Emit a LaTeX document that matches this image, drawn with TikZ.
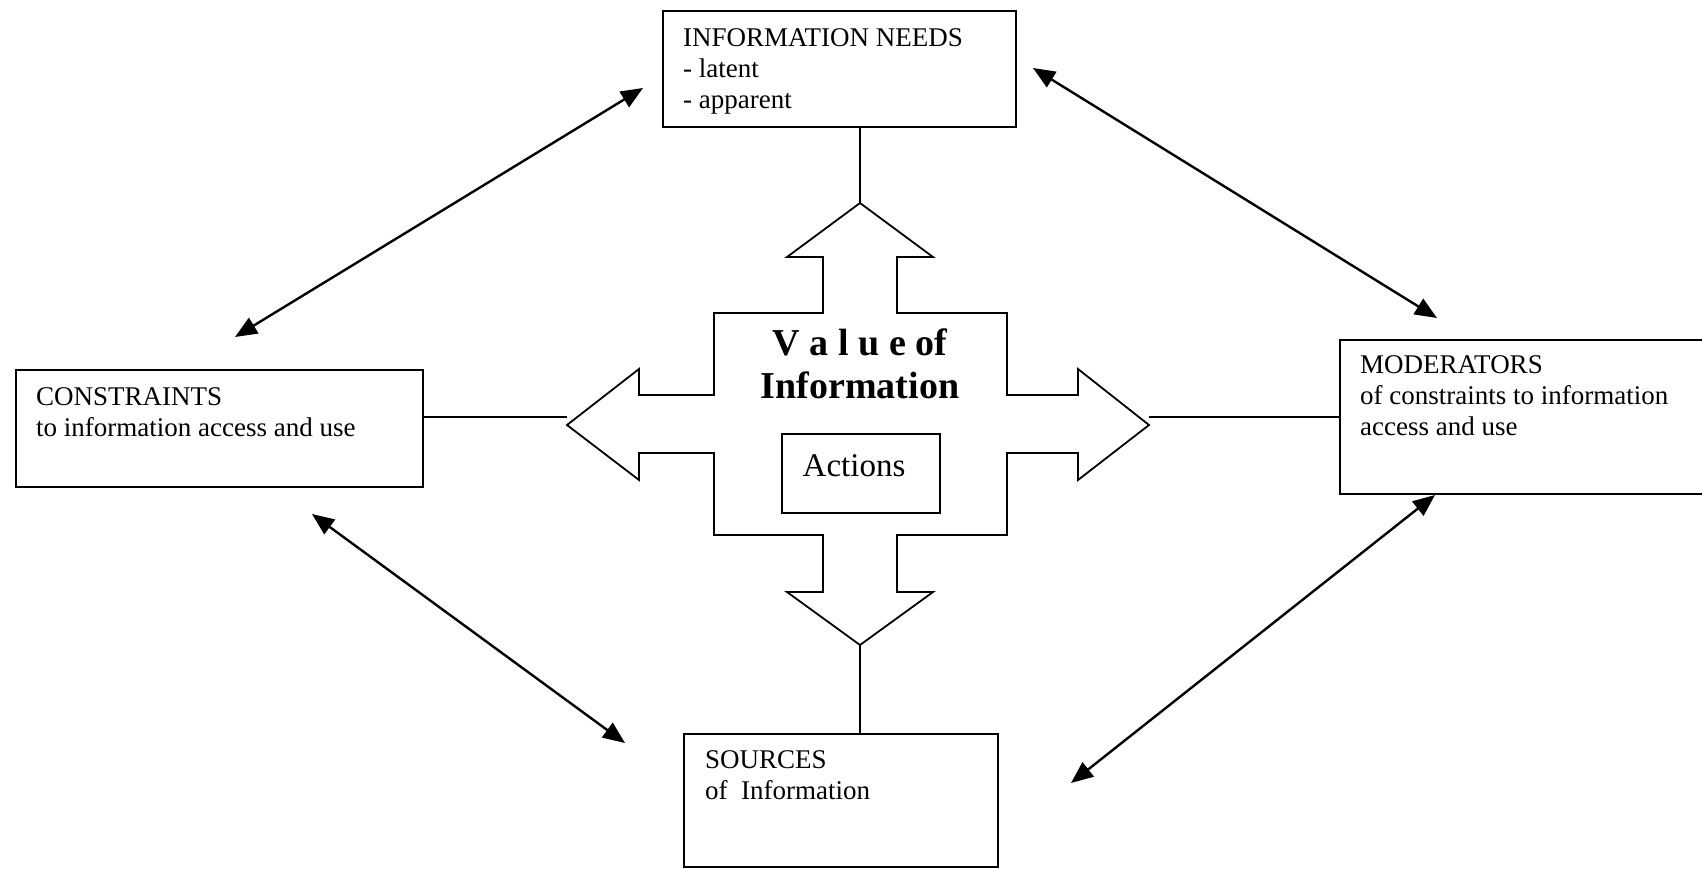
\documentclass[tikz,border=0pt]{standalone}
\usepackage{fontspec}
\setmainfont{Liberation Serif}
\usetikzlibrary{arrows.meta}
\begin{document}
\begin{tikzpicture}[x=1pt,y=-1pt,
  box/.style={draw, line width=1.8pt, inner sep=0pt, anchor=north west},
  lbl/.style={anchor=north west, inner sep=0pt, align=left,
              font=\fontsize{27}{31}\selectfont},
  link/.style={line width=2pt},
  twoway/.style={line width=2.4pt,
    {Triangle[length=22pt,width=18pt]}-{Triangle[length=22pt,width=18pt]}}]
\path[use as bounding box] (0,0) rectangle (1702,868);
\clip (0,0) rectangle (1702,868);

% the four outer boxes
\node[box, minimum width=353pt, minimum height=116pt] (needs) at (662,10) {};
\node[box, minimum width=407pt, minimum height=117pt] (cons)  at (15,369) {};
\node[box, minimum width=380pt, minimum height=154pt] (mods)  at (1339,339) {};
\node[box, minimum width=314pt, minimum height=133pt] (srcs)  at (683,733) {};

\node[lbl] (needsT) at (683,28)  {INFORMATION NEEDS\\- latent\\- apparent};
\node[lbl] (consT)  at (36,387)  {CONSTRAINTS\\to information access and use};
\node[lbl] (modsT)  at (1360,355) {MODERATORS\\of constraints to information\\access and use};
\node[lbl] (srcsT)  at (705,750) {SOURCES\\of~~Information};

% central four-way arrow
\coordinate (tipN) at (860,203);
\coordinate (tipS) at (860,645);
\coordinate (tipW) at (567,425);
\coordinate (tipE) at (1149,425);
\draw[line width=1.8pt, line join=miter]
  (tipN) -- (933,257) -- (897,257) -- (897,313) -- (1007,313) -- (1007,395)
  -- (1078,395) -- (1078,369) -- (tipE) -- (1078,480) -- (1078,453)
  -- (1007,453) -- (1007,535) -- (897,535) -- (897,592) -- (933,592)
  -- (tipS) -- (787,592) -- (823,592) -- (823,535) -- (714,535)
  -- (714,453) -- (639,453) -- (639,480) -- (tipW) -- (639,369)
  -- (639,395) -- (714,395) -- (714,313) -- (823,313) -- (823,257)
  -- (787,257) -- cycle;

\node[anchor=north, inner sep=0pt, align=center,
      font=\fontsize{38}{43}\selectfont\bfseries] (value) at (860,329)
      {V a l u e of\\Information};

\node[box, minimum width=158pt, minimum height=79pt] (act) at (781,433) {};
\node[anchor=base, inner sep=0pt, font=\fontsize{33}{36}\selectfont] (actT)
      at (854,476) {Actions};

% links between the boxes and the four-way arrow
\coordinate (wEnd) at (567,417);
\coordinate (eEnd) at (1149,417);
\draw[link] (needs.south -| tipN) -- (tipN);
\draw[link] (tipS) -- (tipS |- srcs.north);
\draw[link] (cons.east |- wEnd) -- (wEnd);
\draw[link] (eEnd) -- (eEnd -| mods.west);

% two-way arrows around the outside
\coordinate (d1a) at (235,337);  \coordinate (d1b) at (643,88);
\coordinate (d2a) at (1033,68);  \coordinate (d2b) at (1437,318);
\coordinate (d3a) at (312,514);  \coordinate (d3b) at (625,743);
\coordinate (d4a) at (1435,495); \coordinate (d4b) at (1071,783);
\draw[twoway] (d1a) -- (d1b);
\draw[twoway] (d2a) -- (d2b);
\draw[twoway] (d3a) -- (d3b);
\draw[twoway] (d4a) -- (d4b);
\end{tikzpicture}
\end{document}
